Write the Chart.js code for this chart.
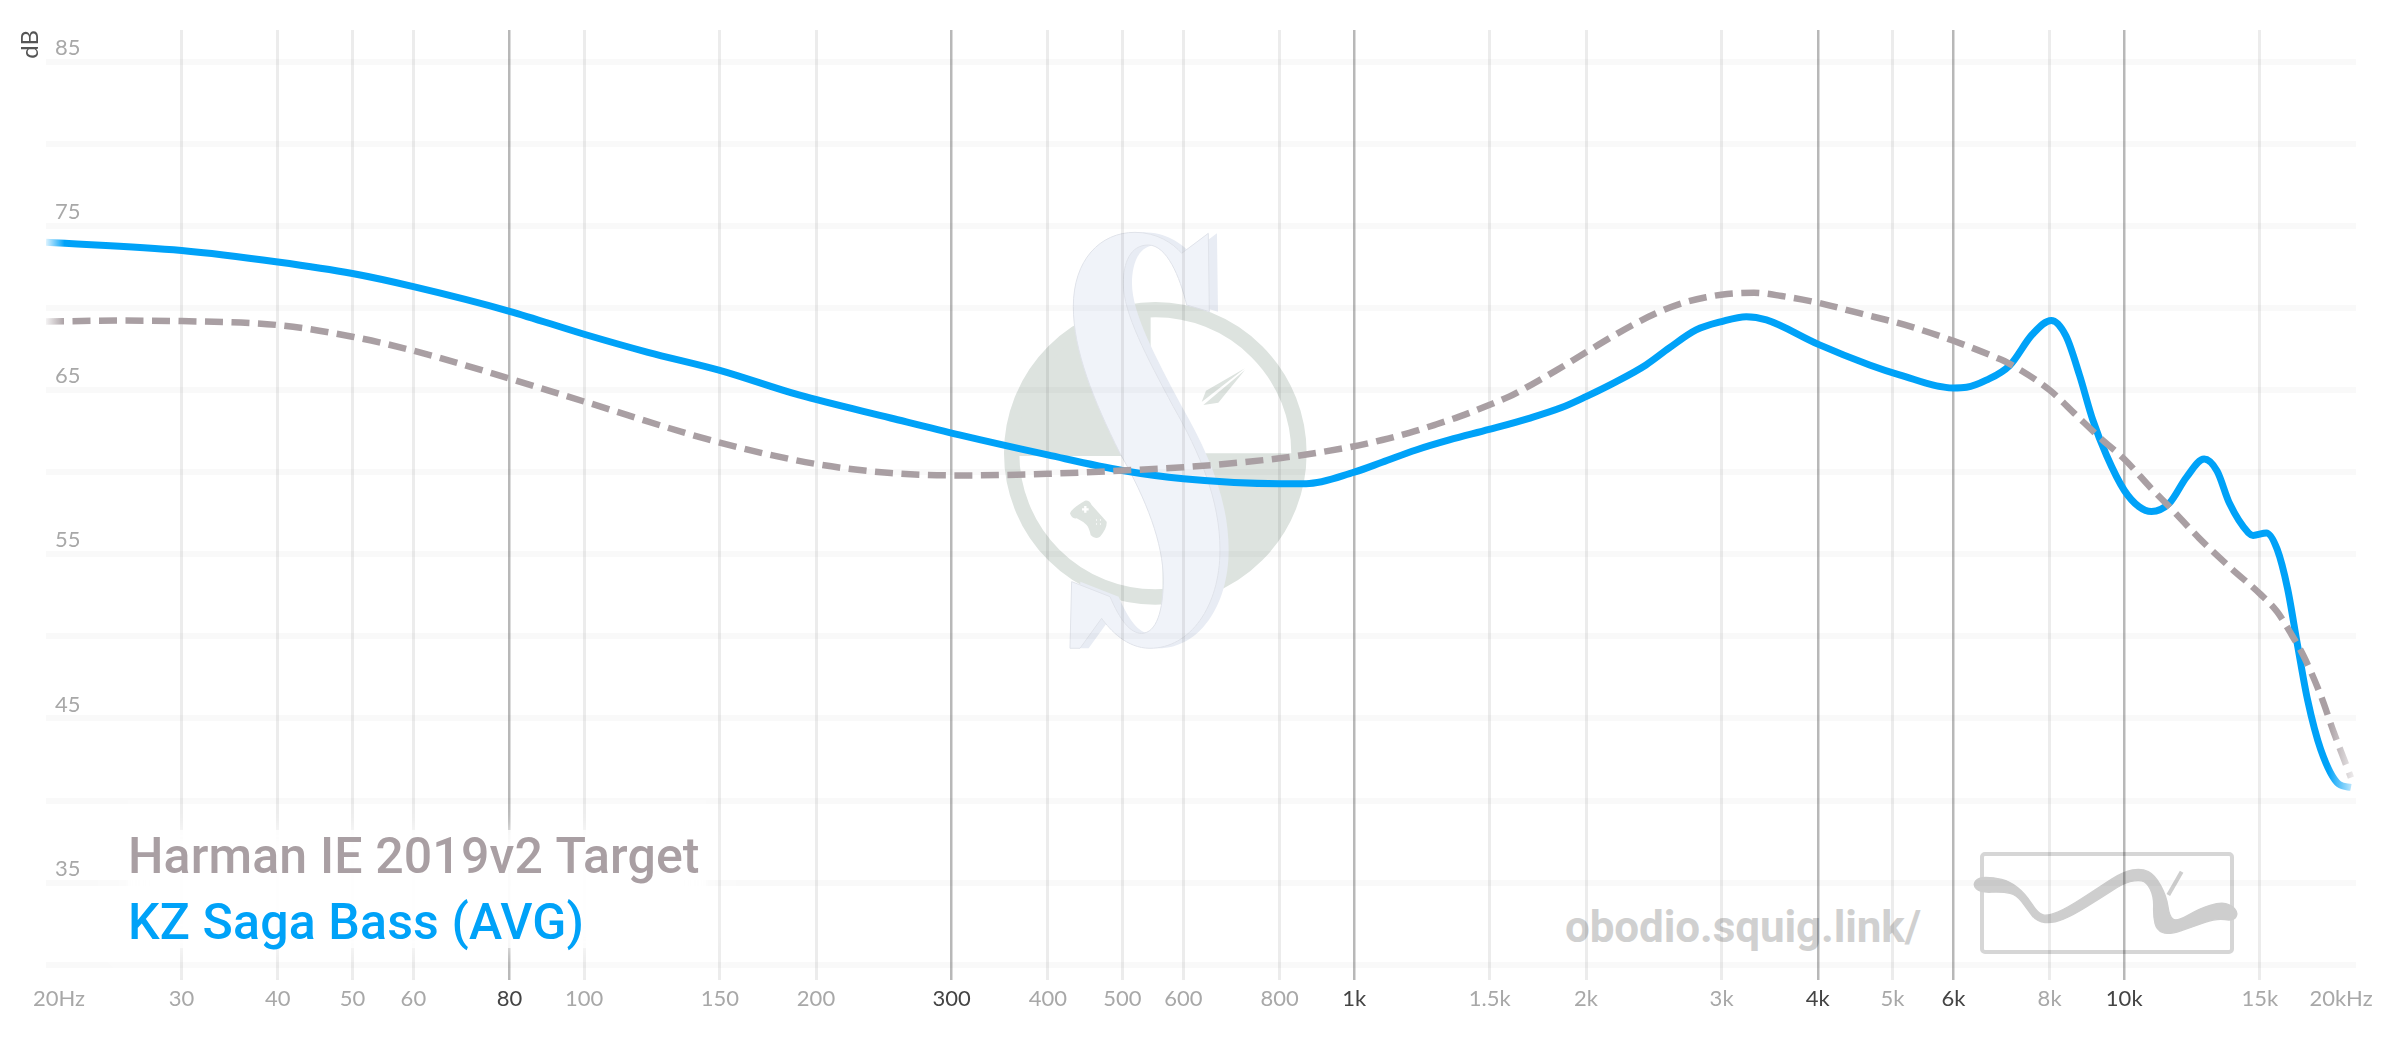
<!DOCTYPE html>
<html>
<head>
<meta charset="utf-8">
<title>KZ Saga Bass</title>
<script src="https://cdn.jsdelivr.net/npm/chart.js@4"></script>
<style>
  html, body { margin: 0; padding: 0; background: #fff; }
  #wrap { position: relative; width: 2400px; height: 1038px; overflow: hidden; }
  #marks, #grafico { position: absolute; left: 0; top: 0; }
</style>
</head>
<body>
<div id="wrap">
  <!-- marcas d'água por baixo do gráfico -->
  <svg id="marks" width="2400" height="1038" viewBox="0 0 2400 1038">
    <g transform="translate(960,200) scale(0.3333)">
      <circle cx="586" cy="760" r="431" fill="none" stroke="#dde3df" stroke-width="46"/>
      <path d="M572 340 L572 768 L170 768 A420 420 0 0 1 572 340 Z" fill="#dde3df"/>
      <path d="M608 1180 L608 760 L1020 760 A420 420 0 0 1 608 1180 Z" fill="#dde3df"/>
      <path d="M855 505 L738 572 L725 606 Z M855 510 L775 608 L730 615 Z" fill="#dde3df"/>
      <path d="M330 940 Q335 925 375 902 Q388 900 395 915 L440 965 Q442 985 420 1010 Q405 1020 392 1005 Q388 985 380 975 Q370 965 350 955 Q335 958 330 940 Z" fill="#dde3df"/>
      <path d="M376 918 V938 M366 928 H386" stroke="#fff" stroke-width="7"/>
      <path d="M408 960 h2 M420 960 h2 M408 972 h2 M420 972 h2" stroke="#fff" stroke-width="6"/>
      <path transform="translate(26,0)" d="M340 320 C340 180 420 97 525 97 C590 97 640 130 665 160 L745 100 L748 335 L680 315 C660 230 620 135 565 135 C510 135 490 190 490 250 C490 340 560 470 640 620 C720 760 780 900 780 1050 C780 1220 690 1345 570 1345 C500 1345 450 1290 425 1255 L360 1345 L330 1345 L335 1145 L450 1190 C480 1260 510 1300 545 1300 C590 1300 610 1230 610 1140 C610 1030 560 900 480 760 C400 600 340 450 340 320 Z" fill="#e8ecf4"/>
      <path d="M340 320 C340 180 420 97 525 97 C590 97 640 130 665 160 L745 100 L748 335 L680 315 C660 230 620 135 565 135 C510 135 490 190 490 250 C490 340 560 470 640 620 C720 760 780 900 780 1050 C780 1220 690 1345 570 1345 C500 1345 450 1290 425 1255 L360 1345 L330 1345 L335 1145 L450 1190 C480 1260 510 1300 545 1300 C590 1300 610 1230 610 1140 C610 1030 560 900 480 760 C400 600 340 450 340 320 Z" fill="#f0f3f9" stroke="#e0e3ea" stroke-width="3"/>
    </g>
    <text x="1565" y="942" font-family="Roboto" font-weight="700" font-size="44" fill="#d0d0d0" textLength="356" lengthAdjust="spacing">obodio.squig.link/</text>
    <rect x="1982" y="854" width="250" height="98" rx="3" fill="none" stroke="#d6d6d6" stroke-width="4"/>
    <g transform="translate(1960,840) scale(0.3333)">
      <path id="rabisco" fill="#cecece" stroke="#cecece" stroke-width="4" stroke-linejoin="round"/>
      <path d="M665 95 L625 165" stroke="#cecece" stroke-width="12"/>
    </g>
  </svg>
  <canvas id="grafico" width="2400" height="1038"></canvas>
</div>

<script>
// === Dados ===
const targetName = "Harman IE 2019v2 Target";
const bassName = "KZ Saga Bass (AVG)";

const targetFreq = [20, 25, 30, 40, 50, 60, 80, 100, 150, 200, 250, 307, 400, 500, 600, 800, 985, 1087, 1179, 1270, 1369, 1497, 1589, 1702, 1830, 2000, 2143, 2298, 2466, 2666, 2864, 3050, 3305, 3590, 4000, 4530, 5180, 6000, 6800, 7100, 8000, 8650, 9300, 10000, 10850, 11550, 12500, 13800, 15000, 15800, 16400, 17100, 18000, 18700, 19300, 19700];
const targetDb = [69.17, 69.23, 69.2, 68.96, 68.25, 67.4, 65.7, 64.3, 61.8, 60.5, 59.95, 59.8, 59.9, 60.1, 60.3, 60.85, 61.52, 61.96, 62.4, 62.87, 63.38, 64.09, 64.6, 65.35, 66.2, 67.3, 68.15, 68.96, 69.68, 70.29, 70.65, 70.85, 70.93, 70.73, 70.32, 69.68, 68.98, 68.0, 67.0, 66.6, 65.0, 63.5, 62.1, 60.8, 59.0, 57.7, 56.0, 54.1, 52.6, 51.5, 50.3, 48.8, 46.4, 44.2, 42.5, 41.4];

const bassFreq = [20, 30, 40, 50, 60, 80, 100, 121, 150, 190, 250, 307, 400, 500, 600, 800, 866, 1000, 1087, 1203, 1329, 1497, 1687, 1863, 2000, 2187, 2393, 2563, 2780, 3000, 3230, 3430, 4000, 4670, 5106, 6000, 6240, 6620, 7100, 7600, 8040, 8400, 8750, 9100, 9490, 10000, 10450, 10850, 11440, 12050, 12700, 13200, 13700, 14500, 14700, 15300, 15800, 16300, 16800, 17300, 18000, 19000, 19700];
const bassDb = [74.0, 73.5, 72.8, 72.1, 71.3, 69.8, 68.4, 67.3, 66.2, 64.7, 63.3, 62.27, 61.05, 60.1, 59.6, 59.3, 59.3, 60.0, 60.6, 61.35, 61.96, 62.6, 63.28, 63.95, 64.6, 65.5, 66.53, 67.55, 68.66, 69.17, 69.47, 69.27, 67.8, 66.53, 65.93, 65.13, 65.17, 65.6, 66.5, 68.4, 69.24, 68.3, 65.9, 63.2, 61.0, 58.9, 57.9, 57.6, 58.1, 59.7, 60.8, 60.07, 58.1, 56.3, 56.15, 56.3, 55.3, 52.9, 49.4, 46.15, 43.1, 41.0, 40.8];

const xTicks = [20, 30, 40, 50, 60, 80, 100, 150, 200, 300, 400, 500, 600, 800, 1000, 1500, 2000, 3000, 4000, 5000, 6000, 8000, 10000, 15000, 20000];
const xFortes = [80, 300, 1000, 4000, 6000, 10000];
const yTicks = [30, 35, 40, 45, 50, 55, 60, 65, 70, 75, 80, 85];
const yRotulos = [35, 45, 55, 65, 75, 85];

const corTarget = "#a99fa3";
const corBass = "#00a2f8";

// Contorno do rabisco do logo, suavizado pelos pontos médios
const rabisco = [[55,112],[100,112],[150,125],[195,160],[235,222],[265,228],[320,205],[420,140],[490,95],[545,85],[585,105],[620,170],[628,230],[650,245],[720,205],[780,187],[815,195],[835,220],[820,243],[770,235],[700,260],[625,285],[590,270],[580,230],[582,170],[560,125],[530,120],[490,130],[420,175],[340,225],[280,250],[230,245],[200,205],[170,165],[130,155],[60,158],[38,135]];
let d = "";
rabisco.forEach((p, i) => {
  const q = rabisco[(i + 1) % rabisco.length];
  const mx = (p[0] + q[0]) / 2;
  const my = (p[1] + q[1]) / 2;
  if (i === 0) {
    const u = rabisco[rabisco.length - 1];
    d += "M" + (u[0] + p[0]) / 2 + " " + (u[1] + p[1]) / 2 + " ";
  }
  d += "Q" + p[0] + " " + p[1] + " " + mx + " " + my + " ";
});
document.getElementById("rabisco").setAttribute("d", d + "Z");

function rotuloFreq(v) {
  if (v === 20) return "20Hz";
  if (v === 20000) return "20kHz";
  return v >= 1000 ? (v / 1000) + "k" : String(v);
}

// As pontas das curvas somem para o branco
function traco(hex) {
  return (context) => {
    const area = context.chart.chartArea;
    if (!area) return hex;
    const g = context.chart.ctx.createLinearGradient(area.left, 0, area.right, 0);
    g.addColorStop(0, hex + "22");
    g.addColorStop(0.008, hex);
    g.addColorStop(0.988, hex);
    g.addColorStop(1, hex + "22");
    return g;
  };
}

// Legenda, e os rótulos das pontas do eixo, que ficam deslocados para dentro
const extras = {
  id: "extras",
  afterDraw(chart) {
    const ctx = chart.ctx;
    const x = chart.scales.x;
    ctx.save();
    ctx.font = "22px Lato";
    ctx.fillStyle = "#a8a8a8";
    ctx.textAlign = "center";
    ctx.textBaseline = "middle";
    ctx.fillText(rotuloFreq(20), x.getPixelForValue(20) + 13, 999);
    ctx.fillText(rotuloFreq(20000), x.getPixelForValue(20000) - 15, 999);

    ctx.shadowColor = "#fff";
    ctx.shadowBlur = 20;
    ctx.fillStyle = "rgba(255,255,255,0.8)";
    ctx.fillRect(128, 830, 578, 118);
    ctx.shadowBlur = 0;

    ctx.textAlign = "left";
    ctx.textBaseline = "alphabetic";
    ctx.font = "500 50px Roboto";
    ctx.letterSpacing = "0.15px";
    ctx.fillStyle = corTarget;
    ctx.fillText(chart.data.datasets[0].label, 128, 873);
    ctx.fillStyle = corBass;
    ctx.fillText(chart.data.datasets[1].label, 128, 939);
    ctx.restore();
  }
};

new Chart(document.getElementById("grafico"), {
  type: "line",
  plugins: [extras],
  data: {
    datasets: [
      {
        label: targetName,
        data: targetFreq.map((f, i) => ({ x: f, y: targetDb[i] })),
        borderColor: traco(corTarget),
        borderWidth: 6.5,
        borderDash: [18, 8.5],
        pointRadius: 0,
        cubicInterpolationMode: "monotone"
      },
      {
        label: bassName,
        data: bassFreq.map((f, i) => ({ x: f, y: bassDb[i] })),
        borderColor: traco(corBass),
        borderWidth: 7,
        pointRadius: 0,
        cubicInterpolationMode: "monotone"
      }
    ]
  },
  options: {
    responsive: false,
    animation: false,
    layout: { padding: { top: 30, right: 44, left: 0, bottom: 0 } },
    plugins: { legend: { display: false }, tooltip: { enabled: false } },
    scales: {
      x: {
        type: "logarithmic",
        min: 20,
        max: 20000,
        afterBuildTicks: (scale) => { scale.ticks = xTicks.map((v) => ({ value: v })); },
        afterFit: (scale) => { scale.height = 58; },
        border: { display: false },
        grid: {
          drawTicks: false,
          color: (c) => {
            const v = c.tick.value;
            if (v === 20 || v === 20000) return "rgba(0,0,0,0)";
            return xFortes.includes(v) ? "rgba(0,0,0,0.28)" : "rgba(0,0,0,0.075)";
          },
          lineWidth: (c) => (xFortes.includes(c.tick.value) ? 2.5 : 3)
        },
        ticks: {
          autoSkip: false,
          maxRotation: 0,
          padding: 6,
          font: { family: "Lato", size: 22 },
          color: (c) => (xFortes.includes(c.tick.value) ? "#444" : "#a8a8a8"),
          callback: (v) => (v === 20 || v === 20000 ? "" : rotuloFreq(v))
        }
      },
      y: {
        min: 29.07,
        max: 86.93,
        afterBuildTicks: (scale) => { scale.ticks = yTicks.map((v) => ({ value: v })); },
        afterFit: (scale) => { scale.width = 46; },
        border: { display: false },
        title: {
          display: true,
          text: "dB",
          align: "end",
          color: "#555",
          font: { family: "Lato", size: 24 },
          padding: { top: 16, bottom: 0 }
        },
        grid: { drawTicks: false, color: "rgba(0,0,0,0.022)", lineWidth: 6 },
        ticks: {
          mirror: true,
          padding: 9,
          labelOffset: -14,
          font: { family: "Lato", size: 22 },
          color: "#a8a8a8",
          callback: (v) => (yRotulos.includes(v) ? String(v) : "")
        }
      }
    }
  }
});
</script>
</body>
</html>
